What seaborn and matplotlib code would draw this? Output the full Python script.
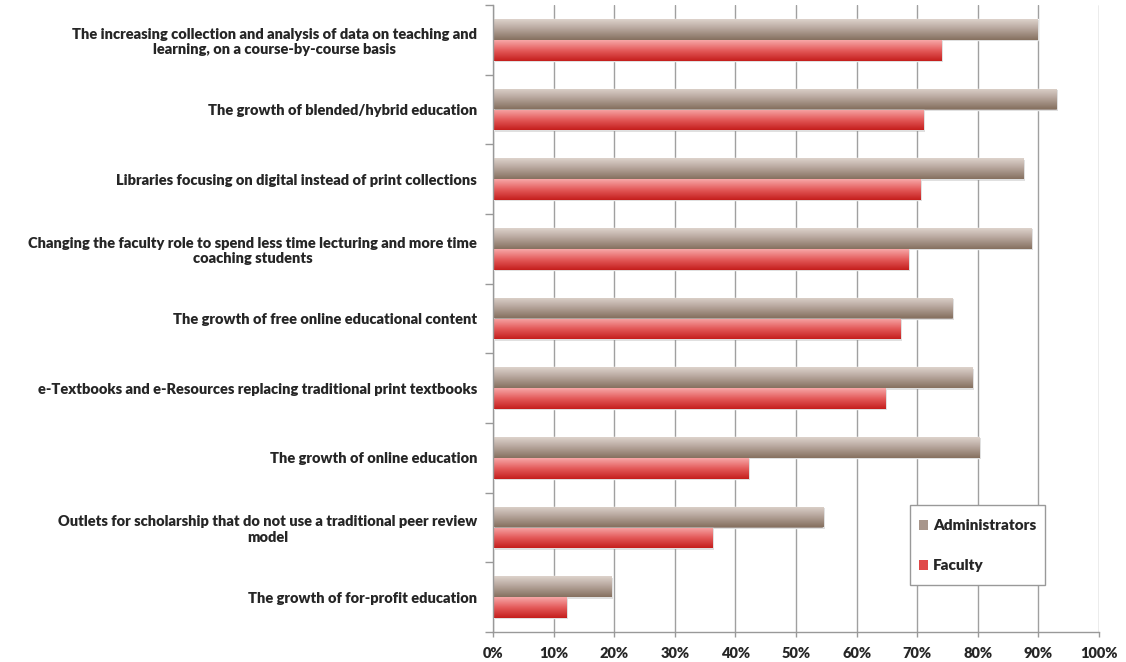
import numpy as np
import pandas as pd
import matplotlib
matplotlib.use("Agg")
import matplotlib.pyplot as plt
import matplotlib.patches as mpatches
from matplotlib.legend_handler import HandlerPatch
import seaborn as sns
from matplotlib.colors import LinearSegmentedColormap

# values (percent)
categories = [
    "The increasing collection and analysis of data on teaching and\nlearning, on a course-by-course basis",
    "The growth of blended/hybrid education",
    "Libraries focusing on digital instead of print collections",
    "Changing the faculty role to spend less time lecturing and more time\ncoaching students",
    "The growth of free online educational content",
    "e-Textbooks and e-Resources replacing traditional print textbooks",
    "The growth of online education",
    "Outlets for scholarship that do not use a traditional peer review\nmodel",
    "The growth of for-profit education",
]
administrators = [89.9, 93.0, 87.6, 88.9, 75.9, 79.2, 80.2, 54.5, 19.5]
faculty = [74.0, 71.1, 70.6, 68.6, 67.2, 64.7, 42.2, 36.3, 12.2]
series = ["Administrators", "Faculty"]
x_ticks = list(range(0, 101, 10))

df = pd.DataFrame({
    "item": categories * 2,
    "group": [series[0]] * len(categories) + [series[1]] * len(categories),
    "value": administrators + faculty,
})

sns.set_style("white")
plt.rcParams["font.family"] = ["Lato", "DejaVu Sans"]
WEIGHT = "heavy"

W, H = 1126, 662
fig = plt.figure(figsize=(W / 100, H / 100), dpi=100)
ax = fig.add_axes([493 / W, 1 - 632 / H, (1099 - 493) / W, (632 - 5) / H])

palette = {"Administrators": "#a8968b", "Faculty": "#e04848"}
sns.barplot(data=df, y="item", x="value", hue="group", order=categories,
            hue_order=series, palette=palette, width=0.6, orient="h",
            saturation=1, ax=ax)

# gradient fill for each bar (light on top, dark at bottom)
cmaps = [
    LinearSegmentedColormap.from_list("adm", ["#ddd3cc", "#b3a298", "#85705f"]),
    LinearSegmentedColormap.from_list("fac", ["#f7a8a8", "#e45a5a", "#c41e1c"]),
]
grad = np.linspace(0, 1, 128).reshape(-1, 1)
for cont, cm in zip(ax.containers, cmaps):
    for bar in cont:
        x0, y0 = bar.get_x(), bar.get_y()
        w, h = bar.get_width(), bar.get_height()
        # faint drop shadow
        ax.add_patch(plt.Rectangle((x0 + 0.25, y0 + 0.02), w, h, color="#000000",
                                   alpha=0.12, lw=0, zorder=1.5))
        im = ax.imshow(grad, extent=[x0, x0 + w, y0 + h, y0], origin="upper",
                       aspect="auto", cmap=cm, zorder=2.5, interpolation="bilinear")
        im.set_clip_path(bar)

ax.set_xlim(0, 100)
ax.set_ylim(len(categories) - 0.5, -0.5)

ax.set_xticks(x_ticks)
ax.set_xticklabels([f"{t}%" for t in x_ticks], fontsize=10.5, fontweight=WEIGHT)
ax.set_yticks(range(len(categories)))
ax.set_yticklabels(categories, fontsize=10.5, fontweight=WEIGHT,
                   multialignment="center")
ax.set_yticks(np.arange(-0.5, len(categories), 1.0), minor=True)

ax.tick_params(axis="x", which="major", direction="out", length=3.6, width=1,
               color="#999999", pad=7.5, bottom=True)
ax.tick_params(axis="y", which="major", length=0, pad=11.5)
ax.tick_params(axis="y", which="minor", direction="out", length=5.5, width=1,
               color="#999999", left=True)

ax.xaxis.grid(True, color="#a0a0a0", lw=1)
ax.set_axisbelow(True)
for side in ["top", "right"]:
    ax.spines[side].set_visible(False)
for side in ["left", "bottom"]:
    ax.spines[side].set_color("#999999")
    ax.spines[side].set_linewidth(1)

ax.set_xlabel("")
ax.set_ylabel("")


def small_square(legend, orig_handle, xdescent, ydescent, width, height, fontsize):
    s = 0.6 * fontsize
    return mpatches.Rectangle((-xdescent, -ydescent + (height - s) / 2), s, s)


handles = [mpatches.Patch(facecolor=palette[s], edgecolor="none") for s in series]
leg = ax.legend(handles, series, loc="upper left",
                bbox_to_anchor=(910 / W, 1 - 505 / H),
                bbox_transform=fig.transFigure, borderaxespad=0, frameon=True,
                fancybox=False, framealpha=1, edgecolor="#999999",
                prop={"weight": WEIGHT, "size": 11}, labelspacing=1.2,
                handlelength=0.6, handleheight=1.8, handletextpad=0.3,
                borderpad=0.6,
                handler_map={mpatches.Patch: HandlerPatch(patch_func=small_square)})
leg.get_frame().set_linewidth(1)

fig.savefig("out.png", dpi=100)
